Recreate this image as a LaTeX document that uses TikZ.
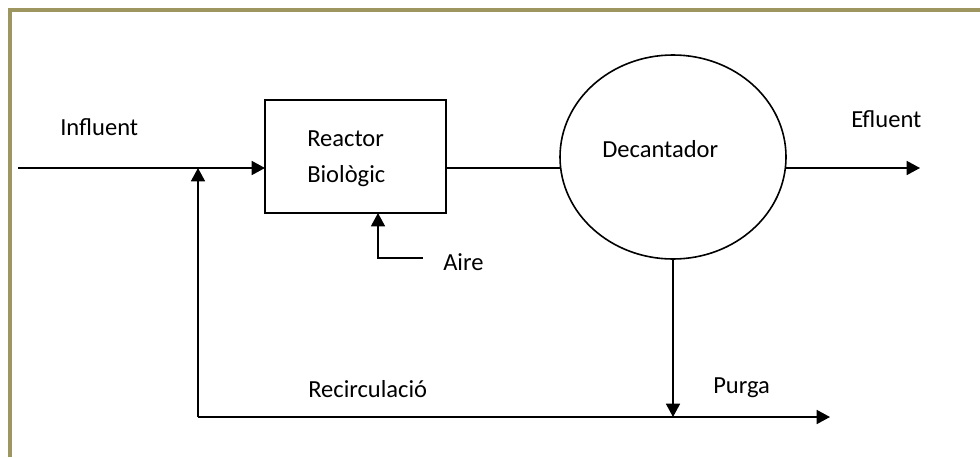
\documentclass[tikz,border=0pt]{standalone}
\usepackage{fontspec}
\setmainfont{Carlito}
\usetikzlibrary{arrows.meta,shapes.geometric}
\definecolor{framecol}{RGB}{158,150,96}
\tikzset{
  flow/.style={line width=1.2pt, draw=black},
  flowarrow/.style={flow, -{Triangle[length=10pt,width=10.5pt]}},
  unitbox/.style={draw=black, line width=1.2pt, rectangle, inner sep=0pt, outer sep=0pt,
                  minimum width=135.75pt, minimum height=84.75pt},
  settler/.style={draw=black, line width=1.2pt, ellipse, inner sep=0pt, outer sep=0pt,
                  minimum width=169.5pt, minimum height=153pt},
  lbl/.style={anchor=base west, inner sep=0pt, font=\fontsize{18.4}{27}\selectfont}
}
\begin{document}
\begin{tikzpicture}[x=0.75pt, y=-0.75pt]
  \useasboundingbox (0,0) rectangle (980,457);
  % page frame (top and left edges)
  \draw[framecol, line width=3pt] (10,457) -- (10,10) -- (980,10);

  % process units
  \node[unitbox] (reactor) at (355.5,156.5) {};
  \node[lbl] (reactortxt1) at (307,146) {Reactor};
  \node[lbl] (reactortxt2) at (307,182) {Biològic};
  \node[settler] (decant) at (673,157) {};
  \node[lbl] (decanttxt) at (602,157) {Decantador};

  % free ends of the flow lines
  \coordinate (inlet) at (18,168);
  \coordinate (outlet) at (920,168);
  \coordinate (airin) at (423,258);
  \coordinate (airbend) at (378,258);
  \coordinate (rcjoin) at (198,168);
  \coordinate (rcbase) at (198,417);
  \coordinate (purgebase) at (673,417);
  \coordinate (purgeend) at (830,417);

  % main line
  \draw[flowarrow] (inlet) -- (reactor.west |- inlet);
  \draw[flow] (reactor.east |- inlet) -- (decant.west |- inlet);
  \draw[flowarrow] (decant.east |- inlet) -- (outlet);

  % air supply
  \draw[flowarrow] (airin) -- (airbend) -- (airbend |- reactor.south);

  % sludge line, purge and recirculation
  \draw[flowarrow] (decant.south) -- (purgebase);
  \draw[flowarrow] (rcbase) -- (purgeend);
  \draw[flowarrow] (rcbase) -- (rcjoin);

  % labels
  \node[lbl] (influent) at (60,135) {Influent};
  \node[lbl] (efluent) at (851,127) {Efluent};
  \node[lbl] (aire) at (443,270) {Aire};
  \node[lbl] (purga) at (713,393) {Purga};
  \node[lbl] (recirc) at (308,397) {Recirculació};
\end{tikzpicture}
\end{document}
